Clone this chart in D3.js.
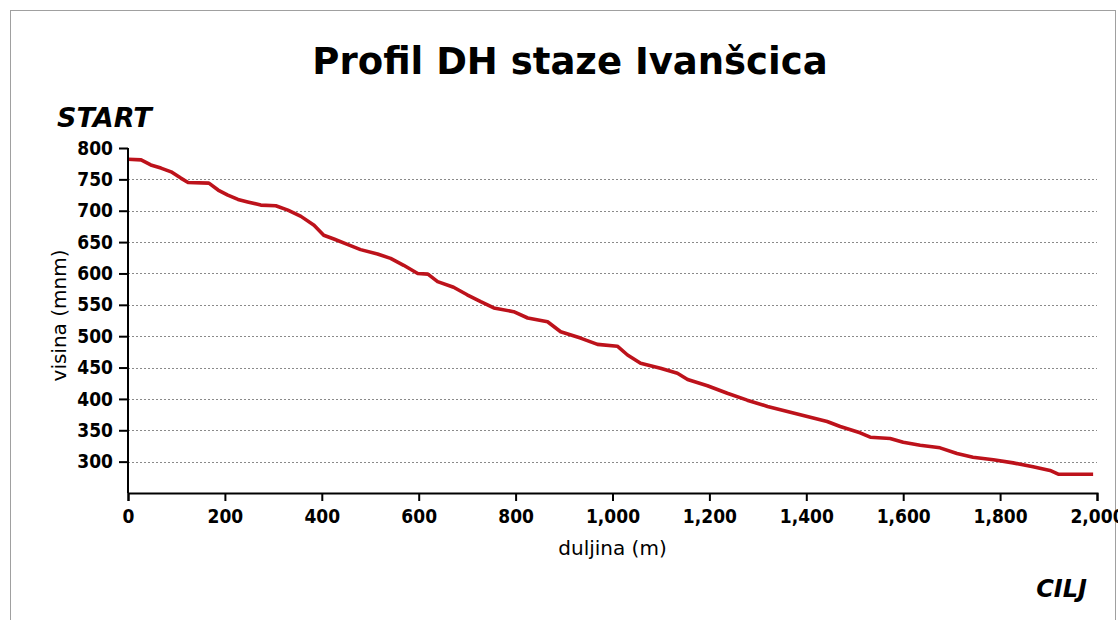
<!DOCTYPE html>
<html>
<head>
<meta charset="utf-8">
<script src="https://cdn.jsdelivr.net/npm/d3@7"></script>
<style>
  html, body { margin: 0; padding: 0; background: #fff; }
  svg { display: block; }
  .tick text { font-family: "DejaVu Sans Condensed", "Liberation Sans Narrow", "DejaVu Sans", sans-serif; font-weight: bold; font-size: 19px; fill: #000; }
</style>
</head>
<body>
<svg id="chart"></svg>
<script>
'use strict';

// profil staze: udaljenost (m) i visina (mnm)
var distances = [0, 27, 47, 68, 89, 109, 124, 167, 186, 206, 227, 247, 274, 305, 330, 357, 384, 404, 425, 454,
  480, 515, 542, 569, 598, 619, 639, 672, 700, 728, 755, 796, 825, 866, 893, 934, 969, 1010, 1031, 1058,
  1099, 1134, 1155, 1196, 1237, 1278, 1320, 1361, 1402, 1443, 1470, 1511, 1532, 1573, 1600, 1635, 1676,
  1711, 1744, 1786, 1827, 1868, 1903, 1920, 1992];
var elevations = [782, 781, 773, 768, 762, 752, 745, 744, 733, 725, 718, 714, 709, 708, 701, 691, 677, 661, 655, 646,
  638, 631, 624, 613, 600, 599, 587, 578, 566, 555, 545, 539, 529, 523, 507, 497, 487, 484, 470, 457,
  449, 441, 431, 421, 409, 398, 388, 380, 372, 364, 356, 346, 339, 337, 331, 326, 322,
  313, 307, 303, 298, 292, 286, 280, 280];
var xTicks = [0, 200, 400, 600, 800, 1000, 1200, 1400, 1600, 1800, 2000];
var yTicks = [300, 350, 400, 450, 500, 550, 600, 650, 700, 750, 800];
var gridValues = [300, 350, 400, 450, 500, 550, 600, 650, 700, 750];

var W = 1118, H = 620;
var PLOT = { LEFT: 128, RIGHT: 1097, TOP: 148, BOTTOM: 493 };

var svg = d3.select('#chart').attr('width', W).attr('height', H);

// okvir
svg.append('rect')
  .attr('x', 10.5).attr('y', 10.5)
  .attr('width', 1105).attr('height', 700)
  .attr('fill', '#fff')
  .attr('stroke', '#a0a0a0');

var x = d3.scaleLinear().domain([0, 2000]).range([PLOT.LEFT, PLOT.RIGHT]);
var y = d3.scaleLinear().domain([250, 800]).range([PLOT.BOTTOM, PLOT.TOP]);

// mreža
svg.append('g')
  .selectAll('line')
  .data(gridValues)
  .enter()
  .append('line')
  .attr('x1', PLOT.LEFT).attr('x2', PLOT.RIGHT)
  .attr('y1', function(d) { return Math.round(y(d)) + 0.5; })
  .attr('y2', function(d) { return Math.round(y(d)) + 0.5; })
  .attr('stroke', '#8a8a8a')
  .attr('stroke-dasharray', '2,2');

var data = distances.map(function(d, i) { return { d: d, h: elevations[i] }; });

var line = d3.line()
  .x(function(p) { return x(p.d); })
  .y(function(p) { return y(p.h); });

svg.append('path')
  .datum(data)
  .attr('d', line)
  .attr('fill', 'none')
  .attr('stroke', '#bd121b')
  .attr('stroke-width', 3.6)
  .attr('stroke-linejoin', 'round');

var xAxis = d3.axisBottom(x)
  .tickValues(xTicks)
  .tickSize(8)
  .tickPadding(9)
  .tickFormat(d3.format(','));

var gx = svg.append('g')
  .attr('transform', 'translate(0,' + PLOT.BOTTOM + ')')
  .call(xAxis);

var yAxis = d3.axisLeft(y)
  .tickValues(yTicks)
  .tickSize(9)
  .tickPadding(6)
  .tickSizeOuter(0)
  .tickFormat(d3.format('d'));

var gy = svg.append('g')
  .attr('transform', 'translate(' + PLOT.LEFT + ',0)')
  .call(yAxis);

// y os ide samo od 800 dolje
gy.select('.domain').attr('d', 'M0,' + PLOT.TOP + 'V' + PLOT.BOTTOM);

[gx, gy].forEach(function(g) {
  g.select('.domain').attr('stroke', '#000').attr('stroke-width', 2);
  g.selectAll('.tick line').attr('stroke', '#000').attr('stroke-width', 2);
});

// naslov i oznake
svg.append('text')
  .attr('x', 570).attr('y', 74)
  .attr('text-anchor', 'middle')
  .style('font-family', '"DejaVu Sans", sans-serif')
  .style('font-weight', 'bold')
  .style('font-size', '37px')
  .text('Profil DH staze Ivanšcica');

svg.append('text')
  .attr('x', 57).attr('y', 127)
  .style('font-family', '"DejaVu Sans", sans-serif')
  .style('font-weight', 'bold')
  .style('font-style', 'italic')
  .style('font-size', '27px')
  .text('START');

svg.append('text')
  .attr('x', 1087).attr('y', 597)
  .attr('text-anchor', 'end')
  .style('font-family', '"DejaVu Sans", sans-serif')
  .style('font-weight', 'bold')
  .style('font-style', 'italic')
  .style('font-size', '24px')
  .text('CILJ');

svg.append('text')
  .attr('x', (PLOT.LEFT + PLOT.RIGHT) / 2).attr('y', 555)
  .attr('text-anchor', 'middle')
  .style('font-family', '"DejaVu Sans", sans-serif')
  .style('font-size', '20px')
  .text('duljina (m)');

svg.append('text')
  .attr('transform', 'translate(66,' + ((PLOT.TOP + PLOT.BOTTOM) / 2 - 5) + ') rotate(-90)')
  .attr('text-anchor', 'middle')
  .style('font-family', '"DejaVu Sans", sans-serif')
  .style('font-size', '20px')
  .text('visina (mnm)');
</script>
</body>
</html>
